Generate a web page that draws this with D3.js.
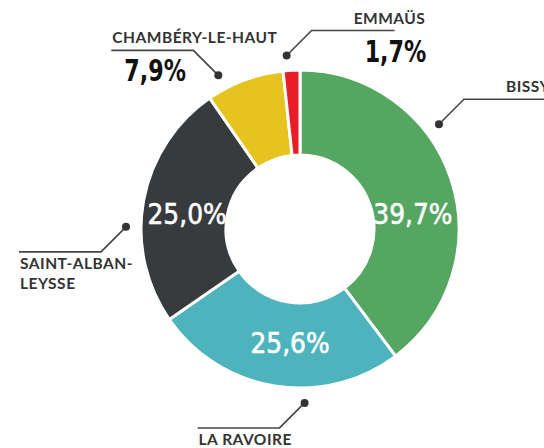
<!DOCTYPE html>
<html>
<head>
<meta charset="utf-8">
<script src="https://cdn.jsdelivr.net/npm/d3@7"></script>
<style>
  html, body { margin: 0; padding: 0; background: #fff; }
  svg { display: block; }
  .name { font-family: Lato, "DejaVu Sans", sans-serif; font-weight: 700; font-size: 15.5px; letter-spacing: 0.5px; fill: #333; }
  .pct-out { font-family: "DejaVu Sans", sans-serif; font-weight: 700; font-size: 30px; fill: #111; }
  .pct-in { font-family: "DejaVu Sans", sans-serif; font-weight: 400; font-size: 29px; fill: #fff; stroke: #fff; stroke-width: 0.6px; }
</style>
</head>
<body>
<div id="chart"></div>
<script>
// quartiers et parts (%)
const quartiers = ["BISSY", "LA RAVOIRE", "SAINT-ALBAN-LEYSSE", "CHAMBÉRY-LE-HAUT", "EMMAÜS"];
const parts = [39.7, 25.6, 25.0, 7.9, 1.7];
const couleurs = ["#55a661", "#4db3bd", "#383b3e", "#e6c31f", "#e91d25"];
// libellés sur deux lignes quand il le faut
const nomLignes = [["BISSY"], ["LA RAVOIRE"], ["SAINT-ALBAN-", "LEYSSE"], ["CHAMBÉRY-LE-HAUT"], ["EMMAÜS"]];
// pourcentage dans l'anneau ou à l'extérieur
const pctDedans = [true, true, true, false, false];

const width = 544, height = 448;
const cx = 300, cy = 229, rOut = 159, rIn = 74;

// placement des annotations (angle du point en degrés, sens horaire depuis midi)
const calloutAngle = [53, 178.5, 270.7, 332, 355.6];
const calloutDir = [1, -1, -1, -1, 1];      // sens du trait horizontal
const calloutVert = [-1, 1, 1, -1, -1];     // le trait oblique monte ou descend
const calloutLen = [90, 82, 82, 82, 83];
const innerAngle = [82, 185, 278];

const fmt = v => d3.format(".1f")(v).replace(".", ",") + "%";

// resserre un texte pour imiter une police condensée
function condense(sel, k) {
  sel.each(function () {
    const w = this.getComputedTextLength();
    d3.select(this).attr("textLength", w * k).attr("lengthAdjust", "spacingAndGlyphs");
  });
}

const svg = d3.select("#chart").append("svg")
  .attr("width", width).attr("height", height);

const g = svg.append("g").attr("transform", `translate(${cx},${cy})`);

const pie = d3.pie().sort(null).value(d => d);
const arcs = pie(parts);
const arc = d3.arc().innerRadius(rIn).outerRadius(rOut);

g.selectAll("path.slice")
  .data(arcs)
  .join("path")
  .attr("class", "slice")
  .attr("d", arc)
  .attr("fill", (d, i) => couleurs[i])
  .attr("stroke", "#fff")
  .attr("stroke-width", 3);

const polar = (deg, r) => {
  const a = deg * Math.PI / 180;
  return [Math.sin(a) * r, -Math.cos(a) * r];
};

// pourcentages dans l'anneau
arcs.forEach((d, i) => {
  if (!pctDedans[i]) return;
  const [x, y] = polar(innerAngle[i], 114);
  g.append("text")
    .attr("class", "pct-in")
    .attr("x", x).attr("y", y)
    .attr("text-anchor", "middle")
    .attr("dy", "0.36em")
    .text(fmt(parts[i]))
    .call(condense, 0.86);
});

// traits d'annotation
const rDot = 174, diag = 25;
quartiers.forEach((q, i) => {
  const [x0, y0] = polar(calloutAngle[i], rDot);
  const dir = calloutDir[i];
  const ex = x0 + dir * diag, ey = y0 + calloutVert[i] * diag;
  const hx = ex + dir * calloutLen[i];
  g.append("path")
    .attr("d", d3.line()([[x0, y0], [ex, ey], [hx, ey]]))
    .attr("fill", "none")
    .attr("stroke", "#444")
    .attr("stroke-width", 1.6);
  g.append("circle")
    .attr("cx", x0).attr("cy", y0).attr("r", 4)
    .attr("fill", "#333");

  const lines = nomLignes[i];
  const nameX = dir < 0 ? hx + 1 : ex + 42;
  // nom sous le trait (La Ravoire, Saint-Alban) ou au-dessus
  const below = calloutVert[i] > 0;
  const t = g.append("text").attr("class", "name");
  lines.forEach((l, k) => {
    t.append("tspan")
      .attr("x", nameX)
      .attr("y", below ? ey + 17 + k * 20 : ey - 7)
      .text(l);
  });
  if (!pctDedans[i]) {
    g.append("text")
      .attr("class", "pct-out")
      .attr("x", dir < 0 ? hx + 13 : ex + 53)
      .attr("y", ey + 31)
      .text(fmt(parts[i]))
      .call(condense, 0.74);
  }
});
</script>
</body>
</html>
